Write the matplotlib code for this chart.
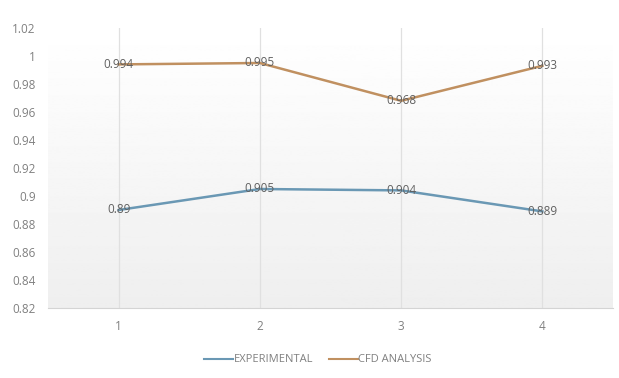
#!/usr/bin/env python3

import numpy as np
from matplotlib import pyplot as plt
from matplotlib.ticker import FuncFormatter

categories = [1, 2, 3, 4]
experimental = [0.89, 0.905, 0.904, 0.889]
cfdAnalysis = [0.994, 0.995, 0.968, 0.993]
expLabels = ["0.89", "0.905", "0.904", "0.889"]
cfdLabels = ["0.994", "0.995", "0.968", "0.993"]

plt.rcParams["font.family"] = ["Open Sans", "DejaVu Sans"]

fig = plt.figure(figsize=(6.19, 3.78), dpi=100)
ax = fig.add_axes([48/619, 1-308/378, (613-48)/619, (308-28)/378])

# faint white-to-gray gradient behind the plot
grad = np.linspace(1.0, 0.935, 256).reshape(-1, 1)
ax.imshow(grad, cmap="gray", vmin=0, vmax=1, aspect="auto",
          extent=[0, 1, 0, 1], transform=ax.transAxes, zorder=0)

for x in categories:
    ax.axvline(x, color="#e0e0e0", linewidth=0.9, zorder=1)

ax.plot(categories, experimental, color="#6a98b4", linewidth=1.8, label="EXPERIMENTAL", zorder=3)
ax.plot(categories, cfdAnalysis, color="#c09060", linewidth=1.8, label="CFD ANALYSIS", zorder=3)

for x, y, t in zip(categories, experimental, expLabels):
    ax.text(x, y, t, ha="center", va="center", fontsize=8.5, color="#606060", zorder=4)
for x, y, t in zip(categories, cfdAnalysis, cfdLabels):
    ax.text(x, y, t, ha="center", va="center", fontsize=8.5, color="#606060", zorder=4)

ax.set_xlim(0.5, 4.5)
ax.set_ylim(0.82, 1.02)
ax.set_xticks(categories)
ax.set_yticks(np.round(np.arange(0.82, 1.021, 0.02), 2))
ax.yaxis.set_major_formatter(FuncFormatter(lambda v, p: "%g" % round(v, 2)))
ax.tick_params(axis="both", length=0, labelsize=8.5, colors="#808080")
ax.tick_params(axis="x", pad=9)
ax.tick_params(axis="y", pad=9)

for side in ["top", "right", "left"]:
    ax.spines[side].set_visible(False)
ax.spines["bottom"].set_color("#d4d4d4")

leg = fig.legend(loc="center", bbox_to_anchor=(318/619, 1-360/378), ncol=2,
                 frameon=False, fontsize=8, handlelength=2.6, columnspacing=1.4,
                 handletextpad=0.05)
for t in leg.get_texts():
    t.set_color("#808080")
for ln in leg.get_lines():
    ln.set_linewidth(1.5)

fig.savefig("out.png", dpi=100)
